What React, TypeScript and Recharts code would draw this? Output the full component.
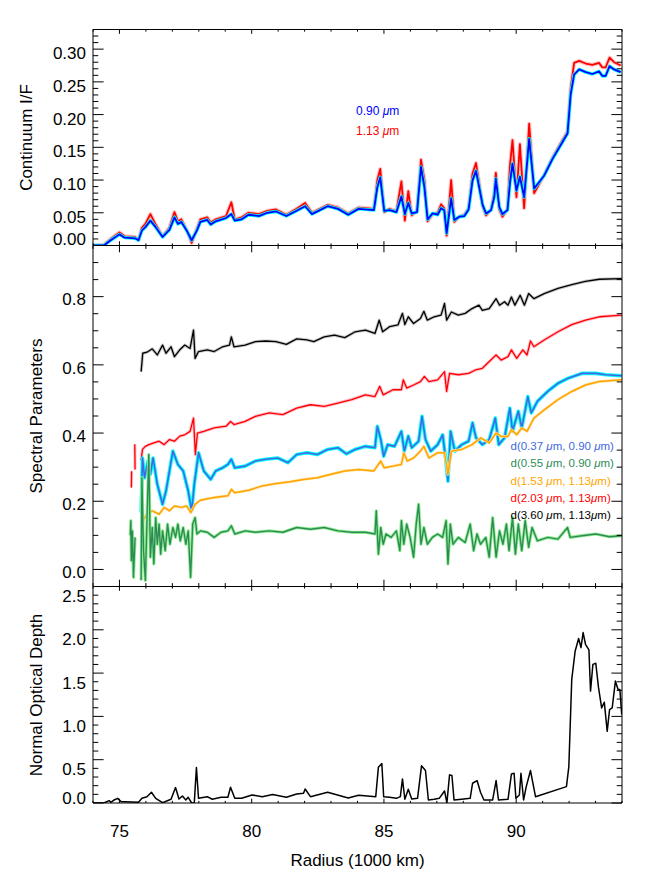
import React from 'react';
import { LineChart, Line, XAxis, YAxis } from 'recharts';

const FONT = '"Liberation Sans", Arial, Helvetica, sans-serif';

// ---------- axes ----------
const xTicks = [74, 75, 76, 77, 78, 79, 80, 81, 82, 83, 84, 85, 86, 87, 88, 89, 90, 91, 92, 93, 94];
const xMajor = [75, 80, 85, 90];
const xLabels = ['75', '80', '85', '90'];

const topYTicks = [0, 0.01, 0.02, 0.03, 0.04, 0.05, 0.06, 0.07, 0.08, 0.09, 0.1, 0.11, 0.12, 0.13, 0.14, 0.15, 0.16, 0.17, 0.18, 0.19, 0.2, 0.21, 0.22, 0.23, 0.24, 0.25, 0.26, 0.27, 0.28, 0.29, 0.3, 0.31, 0.32];
const topYMajor = [0, 0.05, 0.1, 0.15, 0.2, 0.25, 0.3];
const topYLabels = ['0.00', '0.05', '0.10', '0.15', '0.20', '0.25', '0.30'];

const midYTicks = [-0.05, 0, 0.05, 0.1, 0.15, 0.2, 0.25, 0.3, 0.35, 0.4, 0.45, 0.5, 0.55, 0.6, 0.65, 0.7, 0.75, 0.8, 0.85, 0.9];
const midYMajor = [0, 0.2, 0.4, 0.6, 0.8];
const midYLabels = ['0.0', '0.2', '0.4', '0.6', '0.8'];

const botYTicks = [0, 0.1, 0.2, 0.3, 0.4, 0.5, 0.6, 0.7, 0.8, 0.9, 1, 1.1, 1.2, 1.3, 1.4, 1.5, 1.6, 1.7, 1.8, 1.9, 2, 2.1, 2.2, 2.3, 2.4, 2.5];
const botYMajor = [0, 0.5, 1, 1.5, 2, 2.5];
const botYLabels = ['0.0', '0.5', '1.0', '1.5', '2.0', '2.5'];

// ---------- top panel: continuum I/F ----------
const topR = [74.0, 74.41, 74.67, 75.0, 75.2, 75.59, 75.72, 75.85, 75.98, 76.17, 76.37, 76.63, 76.89, 77.08, 77.21, 77.34, 77.54, 77.73, 77.93, 78.06, 78.32, 78.45, 78.64, 79.03, 79.23, 79.36, 79.62, 79.88, 80.27, 80.59, 80.92, 81.31, 81.7, 82.02, 82.28, 82.87, 83.26, 83.65, 84.04, 84.62, 84.75, 84.86, 85.01, 85.21, 85.47, 85.66, 85.79, 85.92, 86.05, 86.25, 86.4, 86.53, 86.65, 86.84, 87.03, 87.16, 87.28, 87.37, 87.54, 87.66, 87.85, 88.04, 88.2, 88.35, 88.48, 88.6, 88.73, 88.86, 89.05, 89.17, 89.23, 89.36, 89.48, 89.67, 89.76, 89.86, 90.01, 90.14, 90.3, 90.49, 90.68, 91.06, 91.37, 91.75, 91.94, 92.06, 92.19, 92.38, 92.63, 92.88, 93.13, 93.26, 93.38, 93.53, 93.7, 93.95];
const topBlue = [0.0, 0.0, 0.008, 0.017, 0.012, 0.011, 0.008, 0.023, 0.028, 0.038, 0.028, 0.013, 0.024, 0.043, 0.033, 0.036, 0.023, 0.008, 0.023, 0.036, 0.039, 0.032, 0.037, 0.042, 0.048, 0.038, 0.04, 0.047, 0.045, 0.05, 0.052, 0.045, 0.053, 0.06, 0.048, 0.06, 0.056, 0.047, 0.056, 0.054, 0.089, 0.104, 0.053, 0.054, 0.051, 0.075, 0.048, 0.065, 0.049, 0.051, 0.12, 0.089, 0.04, 0.049, 0.047, 0.057, 0.054, 0.019, 0.072, 0.039, 0.044, 0.045, 0.055, 0.0995, 0.114, 0.089, 0.062, 0.049, 0.054, 0.074, 0.102, 0.059, 0.048, 0.054, 0.094, 0.125, 0.084, 0.105, 0.074, 0.163, 0.087, 0.107, 0.132, 0.158, 0.171, 0.231, 0.261, 0.269, 0.265, 0.262, 0.266, 0.259, 0.259, 0.274, 0.269, 0.265];
const topRed = [0.0, 0.001, 0.01, 0.02, 0.014, 0.013, 0.009, 0.027, 0.033, 0.048, 0.032, 0.014, 0.027, 0.051, 0.037, 0.04, 0.024, 0.004, 0.026, 0.04, 0.043, 0.035, 0.04, 0.045, 0.066, 0.04, 0.043, 0.05, 0.048, 0.053, 0.055, 0.047, 0.056, 0.065, 0.05, 0.062, 0.058, 0.049, 0.058, 0.056, 0.1, 0.117, 0.051, 0.056, 0.052, 0.098, 0.038, 0.083, 0.046, 0.053, 0.131, 0.1, 0.037, 0.048, 0.05, 0.063, 0.057, 0.015, 0.1, 0.036, 0.044, 0.047, 0.057, 0.11, 0.126, 0.095, 0.06, 0.046, 0.055, 0.08, 0.111, 0.055, 0.044, 0.055, 0.12, 0.161, 0.074, 0.155, 0.057, 0.186, 0.08, 0.108, 0.134, 0.161, 0.174, 0.24, 0.279, 0.282, 0.278, 0.276, 0.279, 0.272, 0.272, 0.287, 0.28, 0.275];

// ---------- middle panel: spectral parameters ----------
const blackR = [75.82, 75.88, 76.04, 76.24, 76.43, 76.63, 76.76, 76.95, 77.08, 77.28, 77.47, 77.67, 77.8, 77.86, 77.99, 78.32, 78.58, 78.9, 79.16, 79.23, 79.33, 79.75, 80.14, 80.53, 80.92, 81.31, 81.7, 82.09, 82.35, 82.74, 83.13, 83.52, 83.91, 84.3, 84.66, 84.82, 84.95, 85.21, 85.53, 85.7, 85.79, 85.92, 86.12, 86.38, 86.51, 86.64, 86.9, 87.16, 87.29, 87.37, 87.55, 87.81, 88.07, 88.33, 88.59, 88.72, 88.98, 89.24, 89.37, 89.56, 89.69, 89.82, 89.95, 90.15, 90.31, 90.47, 90.67, 91.06, 91.58, 92.1, 92.62, 93.14, 93.99];
const blackV = [0.58, 0.634, 0.637, 0.647, 0.629, 0.658, 0.634, 0.653, 0.624, 0.644, 0.658, 0.648, 0.702, 0.619, 0.639, 0.644, 0.639, 0.653, 0.658, 0.682, 0.653, 0.658, 0.668, 0.67, 0.668, 0.66, 0.676, 0.673, 0.668, 0.682, 0.687, 0.68, 0.697, 0.702, 0.692, 0.731, 0.697, 0.712, 0.717, 0.751, 0.718, 0.741, 0.721, 0.736, 0.757, 0.731, 0.741, 0.746, 0.78, 0.731, 0.755, 0.746, 0.751, 0.765, 0.775, 0.76, 0.765, 0.794, 0.775, 0.785, 0.775, 0.799, 0.775, 0.804, 0.775, 0.809, 0.794, 0.809, 0.824, 0.835, 0.845, 0.851, 0.853];

const redR = [75.45, 75.46, 75.52, 75.58, 75.59, 75.7, 75.82, 75.87, 75.98, 76.11, 76.3, 76.5, 76.69, 76.89, 77.08, 77.28, 77.47, 77.67, 77.8, 77.87, 77.95, 78.19, 78.58, 79.03, 79.2, 79.33, 79.75, 80.14, 80.66, 81.18, 81.7, 82.22, 82.74, 83.26, 83.78, 84.3, 84.66, 84.84, 84.97, 85.34, 85.66, 85.73, 85.86, 86.12, 86.38, 86.53, 86.7, 87.03, 87.29, 87.37, 87.48, 87.81, 88.2, 88.46, 88.72, 89.04, 89.24, 89.43, 89.69, 89.82, 90.02, 90.25, 90.41, 90.54, 90.67, 91.06, 91.58, 92.1, 92.62, 93.14, 93.99];
const redV = [0.24, 0.288, null, 0.367, 0.293, null, 0.32, 0.352, 0.361, 0.366, 0.371, 0.376, 0.366, 0.381, 0.376, 0.391, 0.395, 0.405, 0.444, 0.337, 0.4, 0.405, 0.415, 0.42, 0.434, 0.425, 0.434, 0.449, 0.459, 0.454, 0.473, 0.483, 0.478, 0.488, 0.498, 0.512, 0.507, 0.537, 0.512, 0.527, 0.527, 0.556, 0.532, 0.541, 0.551, 0.566, 0.551, 0.556, 0.58, 0.522, 0.575, 0.571, 0.575, 0.585, 0.59, 0.614, 0.629, 0.614, 0.624, 0.644, 0.619, 0.644, 0.629, 0.67, 0.653, 0.673, 0.697, 0.718, 0.731, 0.741, 0.746];

const blueR = [75.82, 75.87, 75.95, 76.08, 76.17, 76.27, 76.43, 76.63, 76.76, 77.02, 77.21, 77.41, 77.6, 77.73, 77.83, 77.99, 78.19, 78.45, 78.64, 78.9, 79.1, 79.23, 79.36, 79.75, 80.14, 80.53, 80.98, 81.37, 81.7, 82.09, 82.48, 82.87, 83.26, 83.58, 83.91, 84.3, 84.66, 84.75, 84.88, 84.99, 85.14, 85.4, 85.66, 85.77, 85.92, 86.05, 86.31, 86.44, 86.57, 86.77, 87.03, 87.22, 87.33, 87.42, 87.52, 87.68, 87.94, 88.2, 88.35, 88.48, 88.72, 88.98, 89.21, 89.34, 89.56, 89.76, 89.86, 90.08, 90.21, 90.44, 90.57, 90.8, 91.19, 91.58, 91.97, 92.49, 93.01, 93.4, 93.99];
const blueV = [0.167, 0.327, 0.269, 0.318, 0.279, 0.327, 0.25, 0.191, 0.23, 0.347, 0.308, 0.289, 0.23, 0.172, 0.25, 0.342, 0.289, 0.264, 0.289, 0.298, 0.308, 0.323, 0.298, 0.303, 0.318, 0.323, 0.327, 0.313, 0.337, 0.342, 0.337, 0.352, 0.357, 0.339, 0.352, 0.361, 0.357, 0.42, 0.381, 0.332, 0.366, 0.361, 0.405, 0.347, 0.391, 0.357, 0.376, 0.449, 0.381, 0.347, 0.366, 0.395, 0.327, 0.259, 0.405, 0.347, 0.366, 0.376, 0.43, 0.386, 0.366, 0.381, 0.444, 0.366, 0.386, 0.473, 0.405, 0.464, 0.415, 0.507, 0.459, 0.493, 0.522, 0.546, 0.561, 0.575, 0.575, 0.571, 0.568];

const orangeR = [75.82, 75.91, 76.04, 76.24, 76.5, 76.69, 76.89, 77.08, 77.34, 77.54, 77.7, 77.86, 78.06, 78.58, 79.1, 79.23, 79.36, 79.88, 80.4, 80.92, 81.44, 81.96, 82.48, 83.0, 83.52, 84.04, 84.62, 84.88, 85.01, 85.34, 85.66, 85.75, 85.88, 86.12, 86.38, 86.51, 86.7, 87.03, 87.29, 87.42, 87.55, 87.94, 88.33, 88.66, 88.98, 89.24, 89.43, 89.69, 89.82, 90.02, 90.21, 90.41, 90.67, 91.06, 91.58, 92.1, 92.62, 93.14, 93.99];
const orangeV = [0.094, 0.147, 0.162, 0.172, 0.162, 0.182, 0.172, 0.186, 0.182, 0.186, 0.167, 0.191, 0.203, 0.211, 0.216, 0.235, 0.225, 0.232, 0.245, 0.252, 0.257, 0.264, 0.269, 0.279, 0.289, 0.293, 0.289, 0.318, 0.298, 0.303, 0.308, 0.342, 0.318, 0.327, 0.347, 0.361, 0.327, 0.342, 0.342, 0.279, 0.347, 0.352, 0.366, 0.386, 0.371, 0.4, 0.39, 0.39, 0.41, 0.395, 0.415, 0.405, 0.444, 0.468, 0.498, 0.522, 0.541, 0.551, 0.556];

const greenR = [75.41, 75.43, 75.45, 75.49, 75.53, 75.59, 75.7, 75.82, 75.85, 75.91, 75.98, 76.04, 76.11, 76.17, 76.24, 76.3, 76.37, 76.43, 76.5, 76.56, 76.63, 76.73, 76.82, 76.91, 77.02, 77.12, 77.21, 77.3, 77.41, 77.51, 77.6, 77.69, 77.77, 77.86, 77.93, 78.06, 78.32, 78.58, 78.84, 79.1, 79.23, 79.36, 79.75, 80.14, 80.66, 81.18, 81.7, 82.22, 82.74, 83.26, 83.78, 84.3, 84.66, 84.71, 84.79, 84.88, 84.97, 85.08, 85.27, 85.47, 85.6, 85.66, 85.75, 85.86, 85.99, 86.12, 86.22, 86.31, 86.4, 86.51, 86.64, 86.83, 87.03, 87.22, 87.35, 87.42, 87.51, 87.61, 87.81, 88.07, 88.26, 88.39, 88.52, 88.65, 88.85, 88.98, 89.11, 89.24, 89.37, 89.5, 89.63, 89.73, 89.86, 89.97, 90.08, 90.21, 90.34, 90.47, 90.6, 90.8, 91.19, 91.58, 91.94, 92.04, 92.49, 93.01, 93.53, 93.99];
const greenV = [0.1, 0.143, 0.026, 0.113, -0.023, 0.094, null, -0.032, 0.269, 0.055, -0.032, 0.143, 0.337, 0.036, 0.123, 0.016, 0.152, 0.074, 0.133, 0.045, 0.113, 0.055, 0.133, 0.074, 0.123, 0.094, 0.133, 0.084, 0.123, 0.074, 0.113, -0.023, 0.133, 0.152, 0.104, 0.113, 0.109, 0.094, 0.109, 0.113, 0.128, 0.104, 0.113, 0.109, 0.113, 0.109, 0.123, 0.118, 0.123, 0.113, 0.109, 0.109, 0.104, 0.172, 0.045, 0.123, 0.074, 0.104, 0.094, 0.113, 0.055, 0.143, 0.074, 0.133, 0.094, 0.036, 0.133, 0.191, 0.074, 0.123, 0.074, 0.094, 0.104, 0.094, 0.143, 0.016, 0.133, 0.074, 0.094, 0.079, 0.133, 0.055, 0.104, 0.074, 0.094, 0.036, 0.152, 0.036, 0.113, 0.074, 0.133, 0.055, 0.152, 0.045, 0.133, 0.055, 0.143, 0.065, 0.123, 0.084, 0.094, 0.089, 0.123, 0.094, 0.099, 0.104, 0.096, 0.099];

// ---------- bottom panel: normal optical depth ----------
const odR = [74.0, 74.41, 74.61, 74.68, 74.8, 74.93, 75.07, 75.2, 75.72, 75.85, 76.04, 76.21, 76.37, 76.63, 76.95, 77.12, 77.25, 77.38, 77.51, 77.6, 77.73, 77.83, 77.91, 77.99, 78.32, 78.51, 78.84, 79.1, 79.2, 79.36, 79.62, 80.01, 80.4, 80.79, 81.31, 81.7, 81.96, 82.02, 82.22, 82.87, 83.65, 84.04, 84.69, 84.79, 84.92, 84.99, 85.21, 85.47, 85.62, 85.7, 85.79, 85.92, 86.05, 86.27, 86.42, 86.57, 86.68, 86.9, 87.09, 87.29, 87.38, 87.48, 87.57, 87.65, 87.94, 88.26, 88.35, 88.52, 88.65, 88.78, 89.11, 89.24, 89.33, 89.69, 89.82, 89.92, 89.99, 90.12, 90.18, 90.28, 90.38, 90.54, 90.73, 91.9, 91.99, 92.1, 92.23, 92.36, 92.45, 92.53, 92.62, 92.75, 92.81, 92.9, 93.01, 93.11, 93.23, 93.33, 93.44, 93.53, 93.63, 93.75, 93.85, 93.92, 93.99];
const odV = [0, 0, 0.027, 0.008, 0.035, 0.054, 0.015, 0.015, 0.008, 0.054, 0.073, 0.124, 0.054, 0.004, 0.043, 0.178, 0.046, 0.081, 0.035, 0.066, 0, 0.004, 0.41, 0.054, 0.073, 0.043, 0.066, 0.066, 0.182, 0.054, 0.054, 0.093, 0.073, 0.097, 0.066, 0.104, 0.112, 0.162, 0.073, 0.124, 0.058, 0.089, 0.073, 0.414, 0.456, 0.073, 0.066, 0.054, 0.073, 0.278, 0.043, 0.159, 0.046, 0.054, 0.429, 0.375, 0.035, 0.043, 0.054, 0.139, 0, 0.325, 0.317, 0.035, 0.043, 0.054, 0.228, 0.259, 0.124, 0.035, 0.035, 0.259, 0.035, 0.043, 0.336, 0.344, 0.054, 0.093, 0.344, 0.035, 0.189, 0.375, 0.073, 0.189, 0.421, 1.427, 1.756, 1.899, 1.794, 1.968, 1.833, 1.767, 1.292, 1.601, 1.613, 1.338, 1.098, 1.164, 0.828, 1.079, 1.098, 1.408, 1.311, 1.311, 1.021];

// ---------- text ----------
const topLegend = [
  { text: '0.90 ', color: '#0000FF' },
  { text: '1.13 ', color: '#FF0000' },
];
const midLegend = [
  { a: 'd(0.37 ', b: 'm, 0.90 ', c: 'm)', color: '#4169E1' },
  { a: 'd(0.55 ', b: 'm, 0.90 ', c: 'm)', color: '#2E8B57' },
  { a: 'd(1.53 ', b: 'm, 1.13', c: 'm)', color: '#FFA500' },
  { a: 'd(2.03 ', b: 'm, 1.13', c: 'm)', color: '#FF0000' },
  { a: 'd(3.60 ', b: 'm, 1.13', c: 'm)', color: '#000000' },
];

const toRows = (r: number[], v: (number | null)[]) => r.map((x, i) => ({ r: x, v: v[i] }));

const topBlueData = toRows(topR, topBlue);
const topRedData = toRows(topR, topRed);
const blackData = toRows(blackR, blackV);
const redData = toRows(redR, redV);
const blueData = toRows(blueR, blueV);
const orangeData = toRows(orangeR, orangeV);
const greenData = toRows(greenR, greenV);
const odData = toRows(odR, odV);

const W = 647;
const H = 883;

type Side = 'left' | 'right' | 'top' | 'bottom';

function makeTick(majors: number[], len: number, side: Side, labels?: string[], labelDy?: (v: number) => number) {
  return (props: any) => {
    const { x, y, payload } = props;
    const v = payload.value;
    const idx = majors.findIndex((m) => Math.abs(m - v) < 1e-6);
    const major = idx >= 0;
    const l = major ? len : len / 2;
    let x2 = x;
    let y2 = y;
    if (side === 'left') x2 = x + l;
    if (side === 'right') x2 = x - l;
    if (side === 'bottom') y2 = y - l;
    if (side === 'top') y2 = y + l;
    let label = null;
    if (major && labels) {
      if (side === 'left') {
        label = (
          <text x={x - 7} y={y + (labelDy ? labelDy(v) : 8)} textAnchor="end" fontSize={17} fontFamily={FONT} fill="#000">
            {labels[idx]}
          </text>
        );
      } else if (side === 'bottom') {
        label = (
          <text x={x} y={y + 34} textAnchor="middle" fontSize={17} fontFamily={FONT} fill="#000">
            {labels[idx]}
          </text>
        );
      }
    }
    return (
      <g>
        <line x1={x} y1={y} x2={x2} y2={y2} stroke="#000" strokeWidth={1} />
        {label}
      </g>
    );
  };
}

function AxisTitle(props: any) {
  const { titleText, baseX, centerY } = props;
  return (
    <text
      x={baseX}
      y={centerY}
      textAnchor="middle"
      fontSize={17}
      fontFamily={FONT}
      fill="#000"
      transform={`rotate(-90 ${baseX} ${centerY})`}
    >
      {titleText}
    </text>
  );
}

function XTitle(props: any) {
  const { titleText, centerX, baseY } = props;
  return (
    <text x={centerX} y={baseY} textAnchor="middle" fontSize={17} fontFamily={FONT} fill="#000">
      {titleText}
    </text>
  );
}

function TopLegend() {
  return (
    <g>
      {topLegend.map((d, i) => (
        <text key={i} x={356} y={114.5 + i * 20} fontSize={12} fontFamily={FONT} fill={d.color}>
          {d.text}
          <tspan fontStyle="italic">μ</tspan>m
        </text>
      ))}
    </g>
  );
}

function MidLegend() {
  return (
    <g>
      {midLegend.map((d, i) => (
        <text key={i} x={510.5} y={450 + i * 17.3} fontSize={11.5} fontFamily={FONT} fill={d.color}>
          {d.a}
          <tspan fontStyle="italic">μ</tspan>
          {d.b}
          <tspan fontStyle="italic">μ</tspan>
          {d.c}
        </text>
      ))}
    </g>
  );
}

function Frame(props: {
  top: number;
  bottom: number;
  domain: [number, number];
  yTicks: number[];
  yMajor: number[];
  yLabels: string[];
  xLen: number;
  labelDy: (v: number) => number;
  showXLabels: boolean;
  children: React.ReactNode;
  title: React.ReactElement;
  legend?: React.ReactElement;
  xTitle?: React.ReactElement;
}) {
  const { top, bottom, domain, yTicks, yMajor, yLabels, xLen, labelDy, showXLabels, children, title, legend, xTitle } = props;
  return (
    <div style={{ position: 'absolute', left: 0, top: 0, width: W, height: H }}>
      <LineChart width={W} height={H} margin={{ top: top - 1, right: 0, bottom: H - bottom - 1, left: 0 }}>
        <XAxis
          xAxisId="b"
          orientation="bottom"
          type="number"
          dataKey="r"
          domain={[74, 94]}
          allowDataOverflow
          ticks={xTicks}
          interval={0}
          height={1}
          tickSize={0}
          tickMargin={0}
          tickLine={false}
          axisLine={{ stroke: '#000', strokeWidth: 1 }}
          tick={makeTick(xMajor, xLen, 'bottom', showXLabels ? xLabels : undefined)}
          label={xTitle}
        />
        <XAxis
          xAxisId="t"
          orientation="top"
          type="number"
          dataKey="r"
          domain={[74, 94]}
          allowDataOverflow
          ticks={xTicks}
          interval={0}
          height={1}
          tickSize={0}
          tickMargin={0}
          tickLine={false}
          axisLine={{ stroke: '#000', strokeWidth: 1 }}
          tick={makeTick(xMajor, xLen, 'top')}
          label={legend}
        />
        <YAxis
          yAxisId="l"
          orientation="left"
          type="number"
          domain={domain}
          allowDataOverflow
          ticks={yTicks}
          interval={0}
          width={93}
          tickSize={0}
          tickMargin={0}
          tickLine={false}
          axisLine={{ stroke: '#000', strokeWidth: 1 }}
          tick={makeTick(yMajor, 10.6, 'left', yLabels, labelDy)}
          label={title}
        />
        <YAxis
          yAxisId="rt"
          orientation="right"
          type="number"
          domain={domain}
          allowDataOverflow
          ticks={yTicks}
          interval={0}
          width={25}
          tickSize={0}
          tickMargin={0}
          tickLine={false}
          axisLine={{ stroke: '#000', strokeWidth: 1 }}
          tick={makeTick(yMajor, 10.6, 'right')}
        />
        {children}
      </LineChart>
    </div>
  );
}

const series = (data: any[], color: string, width: number, key: string) => (
  <Line
    key={key}
    xAxisId="b"
    yAxisId="l"
    data={data}
    dataKey="v"
    type="linear"
    stroke={color}
    strokeWidth={width}
    strokeLinejoin="round"
    dot={false}
    activeDot={false}
    isAnimationActive={false}
    connectNulls={false}
  />
);

export default function App() {
  return (
    <div style={{ position: 'absolute', left: 0, top: 0, width: W, height: H, background: '#fff' }}>
      <Frame
        top={29.5}
        bottom={245.5}
        domain={[0, 0.33]}
        yTicks={topYTicks}
        yMajor={topYMajor}
        yLabels={topYLabels}
        xLen={4.3}
        labelDy={(v) => (Math.abs(v) < 1e-6 ? -0.1 : 10.1)}
        showXLabels={false}
        title={<AxisTitle titleText="Continuum I/F" baseX={32.4} centerY={137.5} />}
        legend={<TopLegend />}
      >
        {series(topRedData, '#FFC4C4', 4, 'rh')}
        {series(topRedData, '#FF0000', 1.8, 'r')}
        {series(topBlueData, '#00FFFF', 3.4, 'bh')}
        {series(topBlueData, '#0000FF', 1.8, 'b')}
      </Frame>
      <Frame
        top={245.5}
        bottom={586.5}
        domain={[-0.05, 0.95]}
        yTicks={midYTicks}
        yMajor={midYMajor}
        yLabels={midYLabels}
        xLen={6.8}
        labelDy={() => 8.8}
        showXLabels={false}
        title={<AxisTitle titleText="Spectral Parameters" baseX={42.2} centerY={416} />}
        legend={<MidLegend />}
      >
        {series(blackData, '#C8C8C8', 3.2, 'kh')}
        {series(blackData, '#000000', 1.3, 'k')}
        {series(redData, '#FFC0CB', 3.2, 'rh')}
        {series(redData, '#FF0000', 1.3, 'r')}
        {series(blueData, '#00FFFF', 3.6, 'bh')}
        {series(blueData, '#4169E1', 1.6, 'b')}
        {series(orangeData, '#FFE0A0', 2.8, 'oh')}
        {series(orangeData, '#FFA500', 1.5, 'o')}
        {series(greenData, '#90EE90', 3.2, 'gh')}
        {series(greenData, '#2E8B57', 1.4, 'g')}
      </Frame>
      <Frame
        top={586.5}
        bottom={803}
        domain={[0, 2.5]}
        yTicks={botYTicks}
        yMajor={botYMajor}
        yLabels={botYLabels}
        xLen={4.3}
        labelDy={(v) => (Math.abs(v) < 1e-6 ? 1.4 : 15.6)}
        showXLabels={true}
        title={<AxisTitle titleText="Normal Optical Depth" baseX={42.2} centerY={695} />}
        xTitle={<XTitle titleText="Radius (1000 km)" centerX={357.5} baseY={866} />}
      >
        {series(odData, '#000000', 1.5, 'od')}
      </Frame>
    </div>
  );
}
